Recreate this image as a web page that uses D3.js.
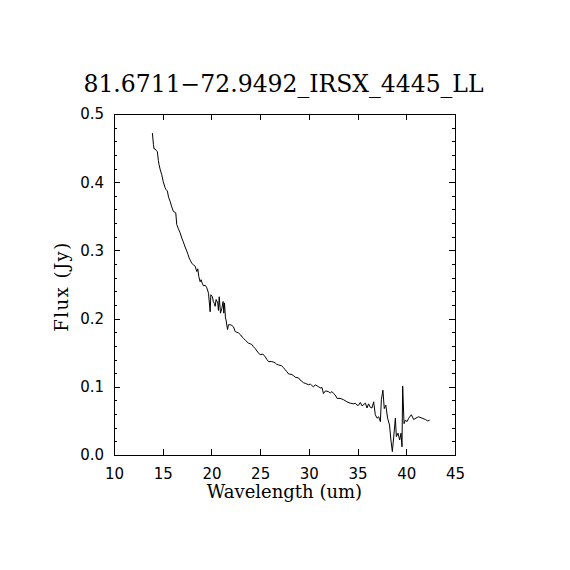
<!DOCTYPE html>
<html>
<head>
<meta charset="utf-8">
<script src="https://cdn.jsdelivr.net/npm/d3@7"></script>
<style>
  body { margin: 0; background: #fff; }
  .tick text { font-family: "DejaVu Sans", sans-serif; font-size: 15px; fill: #000; }
  .lbl { font-family: "DejaVu Serif", serif; fill: #000; }
</style>
</head>
<body>
<div id="chart"></div>
<script>
// spectrum
var wavelength = [13.94, 14.05, 14.11, 14.2, 14.3, 14.45, 14.55, 14.62, 14.75, 14.9,
  15.05, 15.24, 15.35, 15.48, 15.6, 15.76, 15.9, 16.1, 16.25, 16.34,
  16.44, 16.6, 16.78, 16.96, 17.1, 17.3, 17.47, 17.6, 17.71, 17.85,
  17.98, 18.15, 18.32, 18.5, 18.6, 18.7, 18.84, 18.94, 19.05, 19.18,
  19.35, 19.5, 19.6, 19.7, 19.87, 19.94, 20.1, 20.2, 20.3, 20.38,
  20.48, 20.65, 20.72, 20.8, 20.93, 21.07, 21.2, 21.27, 21.34, 21.44,
  21.5, 21.65, 21.75, 21.92, 22.1, 22.26, 22.44, 22.6, 22.78, 23.0,
  23.15, 23.3, 23.5, 23.65, 23.8, 24.0, 24.15, 24.3, 24.5, 24.75,
  25.0, 25.28, 25.52, 25.7, 25.86, 26.2, 26.4, 26.55, 26.7, 26.9,
  27.2, 27.4, 27.57, 27.75, 27.9, 28.26, 28.45, 28.6, 28.94, 29.1,
  29.29, 29.45, 29.63, 29.97, 30.14, 30.3, 30.48, 30.66, 31.0, 31.24,
  31.35, 31.5, 31.7, 32.0, 32.2, 32.37, 32.55, 32.7, 32.9, 33.2,
  33.4, 33.57, 33.9, 34.25, 34.6, 34.77, 34.94, 35.1, 35.28, 35.46,
  35.8, 35.97, 36.13, 36.3, 36.48, 36.65, 36.82, 37.0, 37.17, 37.34,
  37.44, 37.6, 37.74, 37.9, 38.08, 38.28, 38.42, 38.57, 38.7, 38.88,
  38.98, 39.15, 39.32, 39.46, 39.56, 39.63, 39.77, 39.9, 40.08, 40.25,
  40.52, 40.76, 41.1, 41.28, 41.62, 41.97, 42.2, 42.4];
var flux = [0.472, 0.455, 0.449, 0.449, 0.447, 0.445, 0.432, 0.426, 0.418, 0.411,
  0.401, 0.392, 0.389, 0.387, 0.378, 0.372, 0.365, 0.357, 0.356, 0.355,
  0.338, 0.332, 0.326, 0.318, 0.313, 0.305, 0.299, 0.294, 0.289, 0.285,
  0.281, 0.279, 0.277, 0.269, 0.273, 0.262, 0.254, 0.257, 0.252, 0.248,
  0.249, 0.246, 0.242, 0.237, 0.210, 0.235, 0.232, 0.225, 0.222, 0.218,
  0.228, 0.223, 0.212, 0.232, 0.208, 0.215, 0.225, 0.208, 0.223, 0.201,
  0.198, 0.184, 0.191, 0.191, 0.190, 0.188, 0.181, 0.180, 0.179, 0.176,
  0.173, 0.171, 0.168, 0.166, 0.164, 0.163, 0.162, 0.159, 0.156, 0.151,
  0.147, 0.148, 0.144, 0.140, 0.137, 0.137, 0.136, 0.135, 0.133, 0.132,
  0.131, 0.128, 0.125, 0.122, 0.119, 0.118, 0.116, 0.114, 0.113, 0.110,
  0.108, 0.106, 0.105, 0.103, 0.104, 0.102, 0.100, 0.103, 0.100, 0.098,
  0.099, 0.090, 0.094, 0.093, 0.091, 0.093, 0.090, 0.088, 0.083, 0.083,
  0.082, 0.081, 0.078, 0.076, 0.075, 0.076, 0.073, 0.073, 0.077, 0.072,
  0.076, 0.069, 0.075, 0.070, 0.069, 0.078, 0.059, 0.054, 0.056, 0.049,
  0.081, 0.095, 0.068, 0.073, 0.054, 0.044, 0.022, 0.005, 0.025, 0.054,
  0.027, 0.032, 0.022, 0.032, 0.012, 0.101, 0.046, 0.051, 0.049, 0.054,
  0.059, 0.052, 0.055, 0.056, 0.054, 0.052, 0.050, 0.051];

var xTicks = [10, 15, 20, 25, 30, 35, 40, 45];
var yTicks = [0.0, 0.1, 0.2, 0.3, 0.4, 0.5];
var yMinor = d3.range(0, 0.5001, 0.02);
var title = "81.6711\u221272.9492_IRSX_4445_LL";

var W = 570, H = 570;
var plotL = 114, plotT = 114, plotW = 341, plotH = 341;

var svg = d3.select("#chart").append("svg")
  .attr("width", W)
  .attr("height", H);

var x = d3.scaleLinear().domain([10, 45]).range([plotL, plotL + plotW]);
var y = d3.scaleLinear().domain([0, 0.5]).range([plotT + plotH, plotT]);

//axes, ticks pointing in
svg.append("g")
  .attr("transform", "translate(0," + (plotT + plotH) + ")")
  .call(d3.axisBottom(x).tickValues(xTicks).tickFormat(d3.format("d")).tickSizeInner(-6).tickSizeOuter(0).tickPadding(13));
svg.append("g")
  .attr("transform", "translate(0," + plotT + ")")
  .call(d3.axisTop(x).tickValues(xTicks).tickFormat("").tickSizeInner(-6).tickSizeOuter(0));
svg.append("g")
  .attr("transform", "translate(" + plotL + ",0)")
  .call(d3.axisLeft(y).tickValues(yTicks).tickFormat(d3.format(".1f")).tickSizeInner(-6).tickSizeOuter(0).tickPadding(10));
svg.append("g")
  .attr("transform", "translate(" + plotL + ",0)")
  .call(d3.axisLeft(y).tickValues(yMinor).tickFormat("").tickSizeInner(-3).tickSizeOuter(0));
svg.append("g")
  .attr("transform", "translate(" + (plotL + plotW) + ",0)")
  .call(d3.axisRight(y).tickValues(yTicks).tickFormat("").tickSizeInner(-6).tickSizeOuter(0));
svg.append("g")
  .attr("transform", "translate(" + (plotL + plotW) + ",0)")
  .call(d3.axisRight(y).tickValues(yMinor).tickFormat("").tickSizeInner(-3).tickSizeOuter(0));

svg.selectAll(".domain").remove();
svg.selectAll(".tick line").attr("stroke", "#000").attr("shape-rendering", "crispEdges");

svg.append("rect")
  .attr("x", plotL).attr("y", plotT)
  .attr("width", plotW).attr("height", plotH)
  .attr("fill", "none")
  .attr("stroke", "#000")
  .attr("shape-rendering", "crispEdges");

// spectrum
var line = d3.line()
  .x(function (d, i) { return x(wavelength[i]); })
  .y(function (d) { return y(d); });
svg.append("path")
  .datum(flux)
  .attr("d", line)
  .attr("fill", "none")
  .attr("stroke", "#000")
  .attr("stroke-width", 1);

// labels
svg.append("text").attr("class", "lbl")
  .attr("x", plotL + plotW / 2 - 1).attr("y", 92)
  .attr("text-anchor", "middle")
  .style("font-size", "23.5px")
  .text(title);
svg.append("text").attr("class", "lbl")
  .attr("x", plotL + plotW / 2).attr("y", 498)
  .attr("text-anchor", "middle")
  .style("font-size", "18px")
  .text("Wavelength (um)");
svg.append("text").attr("class", "lbl")
  .attr("transform", "translate(68," + (plotT + plotH / 2 + 2) + ") rotate(-90)")
  .attr("text-anchor", "middle")
  .style("font-size", "18px")
  .style("letter-spacing", "1.5px")
  .text("Flux (Jy)");
</script>
</body>
</html>
